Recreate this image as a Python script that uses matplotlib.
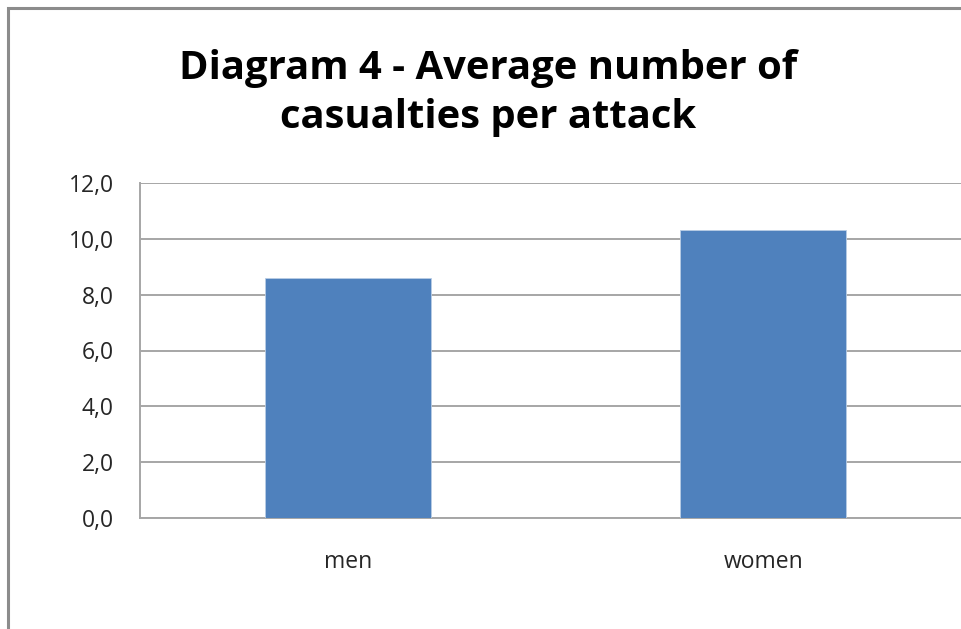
import matplotlib
matplotlib.use("Agg")
import matplotlib.pyplot as plt
from matplotlib.patches import Rectangle
from matplotlib.ticker import FuncFormatter

categories = ["men", "women"]
values = [8.6, 10.3]
yticks = [0, 2, 4, 6, 8, 10, 12]

title = "Diagram 4 - Average number of\ncasualties per attack"
bar_color = "#4F81BD"
grid_color = "#A6A6A6"

plt.rcParams["font.family"] = ["Open Sans", "DejaVu Sans"]

fig = plt.figure(figsize=(9.62, 6.29), dpi=100)

# outer chart frame, running off the right and bottom edges
fig.patches.append(Rectangle((8 / 962, -0.05), 1.0, 1 - 8 / 629 + 0.05,
                             transform=fig.transFigure, fill=False,
                             edgecolor="#8C8C8C", linewidth=2.2, clip_on=False))

ax = fig.add_axes([140 / 962, 111 / 629, 831 / 962, 335 / 629])
ax.bar(range(len(categories)), values, width=0.40, color=bar_color,
       edgecolor="#B9CDE5", linewidth=0.6, zorder=3)

ax.set_xlim(-0.5, 1.5)
ax.set_ylim(0, 12)
ax.set_yticks(yticks)
ax.yaxis.set_major_formatter(FuncFormatter(lambda v, p: f"{v:.1f}".replace(".", ",")))
ax.set_xticks(range(len(categories)))
ax.set_xticklabels(categories)

ax.yaxis.grid(True, color=grid_color, linewidth=1.4, zorder=0)
ax.set_axisbelow(True)
for side in ["top", "right"]:
    ax.spines[side].set_visible(False)
for side in ["left", "bottom"]:
    ax.spines[side].set_color(grid_color)
    ax.spines[side].set_linewidth(1.4)

ax.tick_params(axis="both", length=0, labelsize=16.5, colors="#262626")
ax.tick_params(axis="y", pad=19)
ax.tick_params(axis="x", pad=23)

fig.text(488 / 962, 1 - 93 / 629, title, ha="center", va="center",
         fontsize=28.8, fontweight="bold", linespacing=1.33, color="black")

fig.savefig("out.png", dpi=100)
